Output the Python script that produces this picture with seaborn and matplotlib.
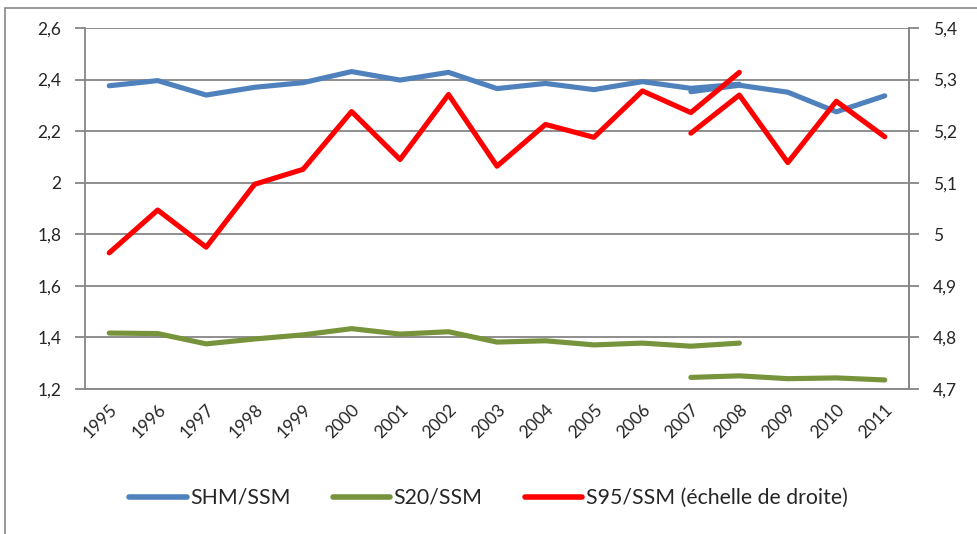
import numpy as np
import pandas as pd
import matplotlib
matplotlib.use('Agg')
import matplotlib.pyplot as plt
import seaborn as sns
from matplotlib.lines import Line2D
from matplotlib.patches import Rectangle
from matplotlib.ticker import FixedLocator, FuncFormatter, NullFormatter

# --- données ---
annees_a = list(range(1995, 2009))   # ancienne série
annees_b = list(range(2007, 2012))   # nouvelle série

shm_a = [2.376, 2.396, 2.340, 2.370, 2.388, 2.431, 2.398, 2.428, 2.365, 2.385, 2.361, 2.392, 2.366, 2.382]
shm_b = [2.353, 2.378, 2.351, 2.275, 2.337]

s20_a = [1.417, 1.415, 1.375, 1.394, 1.410, 1.434, 1.413, 1.422, 1.382, 1.387, 1.371, 1.378, 1.366, 1.378]
s20_b = [1.245, 1.251, 1.240, 1.243, 1.235]

s95_a = [4.964, 5.047, 4.975, 5.097, 5.126, 5.238, 5.145, 5.271, 5.132, 5.213, 5.188, 5.278, 5.236, 5.314]
s95_b = [5.196, 5.270, 5.139, 5.258, 5.189]

ticks_gauche = [1.2, 1.4, 1.6, 1.8, 2.0, 2.2, 2.4, 2.6]
ticks_droite = [4.7, 4.8, 4.9, 5.0, 5.1, 5.2, 5.3, 5.4]
libelles = ['SHM/SSM', 'S20/SSM', 'S95/SSM (échelle de droite)']

BLEU = '#4F81BD'
VERT = '#77933C'
ROUGE = '#FF0000'
GRIS = '#868686'

sns.set_style('white')
plt.rcParams['font.family'] = ['Lato', 'DejaVu Sans']

fig = plt.figure(figsize=(9.77, 5.34), dpi=100)
ax = fig.add_axes([85 / 977, 1 - 389 / 534, (909 - 85) / 977, (389 - 28) / 534])
ax2 = ax.twinx()

kw = dict(linewidth=3.7, solid_capstyle='round', legend=False)
for x, y in [(annees_a, shm_a), (annees_b, shm_b)]:
    sns.lineplot(x=x, y=y, ax=ax, color=BLEU, **kw)
for x, y in [(annees_a, s20_a), (annees_b, s20_b)]:
    sns.lineplot(x=x, y=y, ax=ax, color=VERT, **kw)
for x, y in [(annees_a, s95_a), (annees_b, s95_b)]:
    sns.lineplot(x=x, y=y, ax=ax2, color=ROUGE, **kw)


def virgule(v, pos=None):
    return f'{v:g}'.replace('.', ',')


annees = list(range(1995, 2012))
ax.set_xlim(annees[0] - 0.5, annees[-1] + 0.5)
ax.set_ylim(1.2, 2.6)
ax2.set_ylim(4.7, 5.4)

# graduations entre catégories, libellés au centre
ax.xaxis.set_major_locator(FixedLocator([a - 0.5 for a in annees] + [annees[-1] + 0.5]))
ax.xaxis.set_major_formatter(NullFormatter())
ax.xaxis.set_minor_locator(FixedLocator(annees))
ax.xaxis.set_minor_formatter(FuncFormatter(lambda v, p: f'{int(round(v))}'))
ax.tick_params(axis='x', which='major', length=6, width=1.3, color=GRIS, direction='out')
ax.tick_params(axis='x', which='minor', length=0, pad=9, labelsize=12.5)
for t in ax.xaxis.get_minorticklabels():
    t.set_rotation(45)
    t.set_ha('right')
    t.set_va('top')
    t.set_rotation_mode('anchor')

ax.set_yticks(ticks_gauche)
ax.yaxis.set_major_formatter(FuncFormatter(virgule))
ax.tick_params(axis='y', length=7, width=1.3, color=GRIS, direction='out', pad=10, labelsize=12.5)
ax2.set_yticks(ticks_droite)
ax2.yaxis.set_major_formatter(FuncFormatter(virgule))
ax2.tick_params(axis='y', length=7, width=1.3, color=GRIS, direction='out', pad=10, labelsize=12.5)

ax.yaxis.grid(True, color=GRIS, linewidth=1.3)
ax.set_axisbelow(True)
for a in (ax, ax2):
    a.spines['top'].set_visible(False)
    for s in ('left', 'right', 'bottom'):
        a.spines[s].set_color(GRIS)
        a.spines[s].set_linewidth(1.3)
    a.set_xlabel('')
    a.set_ylabel('')
ax2.spines['left'].set_visible(False)
ax2.spines['bottom'].set_visible(False)
ax2.patch.set_visible(False)

# cadre du graphique
fig.patches.append(Rectangle((5 / 977, -0.05), 1.1, 1 - 8 / 534 + 0.05, transform=fig.transFigure,
                             fill=False, edgecolor=GRIS, linewidth=1.2))

poignees = [Line2D([], [], color=c, linewidth=4, solid_capstyle='round') for c in (BLEU, VERT, ROUGE)]
fig.legend(poignees, libelles, loc='center', bbox_to_anchor=(0.5, 1 - 498 / 534), ncol=3,
           frameon=False, fontsize=15.3, handlelength=2.7, handletextpad=0.15, columnspacing=2.0)

fig.savefig('out.png', dpi=100)
